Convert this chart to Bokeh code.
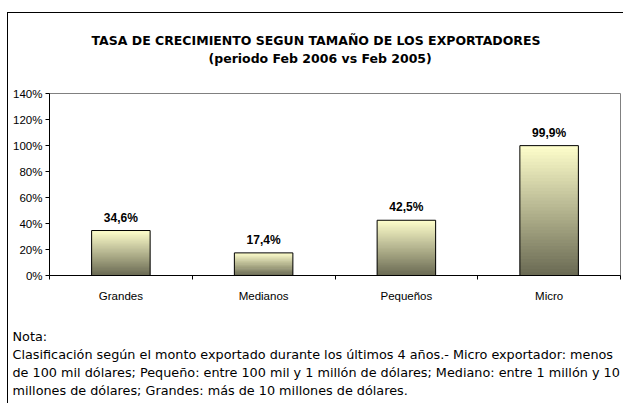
from bokeh.plotting import figure
from bokeh.models import Range1d, FixedTicker, Title, NumeralTickFormatter
from bokeh.core.properties import value
from bokeh.embed import file_html
from bokeh.resources import INLINE

categories = ["Grandes", "Medianos", "Pequeños", "Micro"]
growth = [0.346, 0.174, 0.425, 0.999]
growth_labels = ["34,6%", "17,4%", "42,5%", "99,9%"]
y_ticks = [0.0, 0.2, 0.4, 0.6, 0.8, 1.0, 1.2, 1.4]

title1 = "TASA DE CRECIMIENTO SEGUN TAMAÑO DE LOS EXPORTADORES"
title2 = "(periodo Feb 2006 vs Feb 2005)"
note_lines = [
    "Nota:",
    "Clasificación según el monto exportado durante los últimos 4 años.-  Micro exportador: menos",
    "de 100 mil dólares; Pequeño: entre 100 mil y 1 millón de dólares; Mediano: entre 1 millón y 10",
    "millones de dólares; Grandes: más de 10 millones de dólares.",
]

W, H = 616, 391
p = figure(width=W, height=H, output_backend="svg", toolbar_location=None,
           x_range=Range1d(0, 4), y_range=Range1d(0, 1.4),
           min_border_left=41, min_border_right=4, min_border_top=80,
           min_border_bottom=129)
p.title.visible = False
p.styles = {"margin-left": "7px", "margin-top": "12px",
            "border-left": "1px solid black", "border-top": "1px solid black"}
p.grid.visible = False
p.outline_line_color = "#808080"
p.background_fill_color = "white"
p.border_fill_color = "white"

# gradient bars
N = 40
top_c = (255, 255, 204)
bot_c = (105, 105, 82)
xs, bots, tops, cols = [], [], [], []
for i, v in enumerate(growth):
    for k in range(N):
        t = (k + 0.5) / N
        c = tuple(int(round(bot_c[j] + (top_c[j] - bot_c[j]) * t)) for j in range(3))
        xs.append(i + 0.5)
        bots.append(v * k / N)
        tops.append(v * min(k + 2, N) / N)
        cols.append("#%02x%02x%02x" % c)
p.vbar(x=xs, bottom=bots, top=tops, width=0.41, fill_color=cols, line_color=None)
centers = [i + 0.5 for i in range(len(categories))]
p.vbar(x=centers, bottom=0, top=growth, width=0.41, fill_color=None,
       line_color="black", line_width=1)
p.text(x=centers, y=growth, text=growth_labels, text_align="center",
       text_baseline="bottom", y_offset=-6, text_font=value("Liberation Sans"),
       text_font_style="bold", text_font_size="12px", text_color="black")

# y axis
ya = p.yaxis[0]
ya.ticker = FixedTicker(ticks=y_ticks, minor_ticks=[])
ya.formatter = NumeralTickFormatter(format="0%")
ya.major_label_text_font = "Liberation Sans"
ya.major_label_text_font_size = "11.5px"
ya.major_label_text_color = "black"
ya.axis_line_color = "black"
ya.major_tick_line_color = "black"
ya.major_tick_out = 4
ya.major_tick_in = 0
ya.major_label_standoff = 3

# x axis
xa = p.xaxis[0]
xa.ticker = FixedTicker(ticks=centers, minor_ticks=[0, 1, 2, 3, 4])
xa.major_label_overrides = {c: n for c, n in zip(centers, categories)}
xa.major_tick_out = 0
xa.major_tick_in = 0
xa.minor_tick_out = 4
xa.minor_tick_in = 0
xa.minor_tick_line_color = "black"
xa.axis_line_color = "black"
xa.major_label_text_font = "Liberation Sans"
xa.major_label_text_font_size = "11.5px"
xa.major_label_text_color = "black"
xa.major_label_standoff = 10

# titles above (first added is closest to the frame)
head = dict(text_font="DejaVu Sans", text_font_style="bold",
            text_font_size="12.5px", text_color="black", align="left")
p.add_layout(Title(text=" ", standoff=10, **head), "above")
p.add_layout(Title(text=title2, offset=159, standoff=2, **head), "above")
p.add_layout(Title(text=title1, offset=42, standoff=0, **head), "above")

# note lines below
note = dict(text_font="DejaVu Sans", text_font_style="normal",
            text_font_size="12.8px", text_color="black", align="left",
            text_line_height=1.15)
p.add_layout(Title(text=" ", offset=-37, standoff=5.2, **note), "below")
for line in note_lines:
    p.add_layout(Title(text=line, offset=-37, standoff=0.5, **note), "below")

open("out.html", "w").write(file_html(p, INLINE))
